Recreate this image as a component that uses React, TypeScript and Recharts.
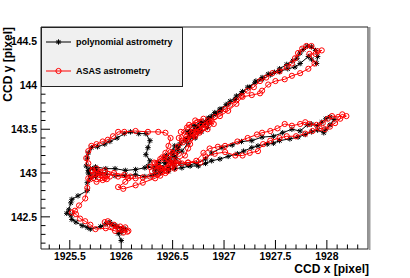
import React from 'react';
import { ScatterChart, Scatter, XAxis, YAxis, ReferenceArea, ReferenceLine, Legend } from 'recharts';

// star trajectory on the CCD, polynomial fit vs ASAS astrometry
const polyX = [
  1926.00, 1925.97, 1926.01, 1925.94, 1925.89, 1925.96, 1926.04, 1926.00, 1925.91, 1925.85,
  1925.80, 1925.70, 1925.67, 1925.62, 1925.56, 1925.52, 1925.51, 1925.47, 1925.49, 1925.51,
  1925.52, 1925.58, 1925.67, 1925.67, 1925.70, 1925.68, 1925.72, 1925.76, 1925.80, 1925.75,
  1925.70, 1925.68, 1925.66, 1925.67, 1925.68, 1925.71, 1925.77, 1925.84, 1925.89, 1925.96,
  1926.03, 1926.09, 1926.17, 1926.24, 1926.28, 1926.26, 1926.24, 1926.28, 1926.26, 1926.33,
  1926.38, 1926.43, 1926.48, 1926.42, 1926.36, 1926.40, 1926.46, 1926.52, 1926.47,
  1926.44, 1926.50, 1926.52, 1926.57, 1926.55, 1926.53, 1926.46,
  1926.38, 1926.30, 1926.23, 1926.14, 1926.04, 1925.94, 1925.85, 1925.76, 1925.70, 1925.75,
  1925.85, 1925.94, 1926.04, 1926.14, 1926.23, 1926.33, 1926.43, 1926.52, 1926.59, 1926.65,
  1926.69, 1926.75, 1926.80, 1926.74, 1926.68, 1926.72, 1926.78, 1926.84, 1926.78, 1926.70, 1926.64,
  1926.85, 1926.86, 1926.92, 1926.96, 1926.91, 1926.85, 1926.79,
  1926.73, 1926.67, 1926.63, 1926.67, 1926.75, 1926.82, 1926.88, 1926.96, 1927.02, 1927.06,
  1927.12, 1927.18, 1927.25, 1927.31, 1927.37, 1927.43, 1927.49, 1927.54, 1927.61, 1927.67,
  1927.71, 1927.74, 1927.77, 1927.81, 1927.85, 1927.89, 1927.91, 1927.90, 1927.85, 1927.82,
  1927.74, 1927.69, 1927.62, 1927.54, 1927.45, 1927.37, 1927.30, 1927.23, 1927.17, 1927.11,
  1927.04, 1926.98, 1926.92, 1926.85, 1926.77, 1926.72, 1926.67, 1926.62, 1926.55, 1926.50,
  1926.46, 1926.50, 1926.57, 1926.65, 1926.73, 1926.82, 1926.88, 1926.98, 1927.08, 1927.17,
  1927.27, 1927.37, 1927.48, 1927.57, 1927.66, 1927.74, 1927.81, 1927.85, 1927.91, 1927.95,
  1927.99, 1928.03, 1928.07, 1928.03, 1927.99, 1927.97, 1927.91, 1927.85, 1927.79, 1927.72,
  1927.64, 1927.54, 1927.48, 1927.42, 1927.33, 1927.27, 1927.19, 1927.13, 1927.04, 1926.96,
  1926.88, 1926.82, 1926.75, 1926.67, 1926.59, 1926.52, 1926.46, 1926.38, 1926.33,
];
const polyY = [
  142.23, 142.31, 142.37, 142.40, 142.44, 142.39, 142.36, 142.32, 142.41, 142.42,
  142.39, 142.36, 142.38, 142.40, 142.44, 142.47, 142.52, 142.54, 142.58, 142.66,
  142.70, 142.74, 142.80, 142.89, 142.98, 143.03, 143.05, 143.00, 142.99, 142.96,
  142.94, 143.00, 143.08, 143.17, 143.23, 143.29, 143.30, 143.33, 143.36, 143.40,
  143.45, 143.47, 143.45, 143.45, 143.37, 143.29, 143.21, 143.14, 143.08, 143.03,
  143.06, 143.11, 143.14, 143.18, 143.12, 143.06, 143.02, 143.08, 143.16,
  143.20, 143.25, 143.31, 143.33, 143.25, 143.16, 143.07,
  143.00, 142.97, 142.96, 142.98, 142.97, 142.97, 142.99, 143.03, 143.05, 143.07,
  143.05, 143.05, 143.03, 143.04, 143.06, 143.07, 143.14, 143.19, 143.25, 143.34,
  143.41, 143.48, 143.55, 143.52, 143.46, 143.40, 143.47, 143.52, 143.58, 143.54, 143.47,
  143.57, 143.62, 143.67, 143.71, 143.69, 143.62, 143.55,
  143.49, 143.46, 143.39, 143.42, 143.51, 143.59, 143.65, 143.73, 143.78, 143.82,
  143.88, 143.93, 143.98, 144.05, 144.09, 144.13, 144.15, 144.19, 144.24, 144.28,
  144.31, 144.37, 144.41, 144.45, 144.44, 144.40, 144.33, 144.25, 144.30, 144.33,
  144.25, 144.21, 144.19, 144.16, 144.12, 144.07, 144.03, 143.98, 143.91, 143.84,
  143.79, 143.73, 143.68, 143.63, 143.57, 143.53, 143.45, 143.37, 143.29, 143.22,
  143.14, 143.11, 143.11, 143.09, 143.11, 143.16, 143.23, 143.29, 143.32, 143.36,
  143.37, 143.41, 143.42, 143.46, 143.50, 143.48, 143.55, 143.56, 143.54, 143.58,
  143.62, 143.64, 143.61, 143.55, 143.50, 143.46, 143.49, 143.47, 143.44, 143.41,
  143.39, 143.37, 143.34, 143.33, 143.31, 143.29, 143.25, 143.22, 143.19, 143.16,
  143.14, 143.11, 143.08, 143.08, 143.06, 143.05, 143.05, 143.03, 142.99,
];

const asasX = [
  1926.06, 1926.01, 1925.97, 1925.91, 1925.84, 1925.87, 1925.93, 1925.99, 1926.04, 1926.07,
  1926.02, 1925.94, 1925.85, 1925.75, 1925.70, 1925.65, 1925.60, 1925.56, 1925.52, 1925.55,
  1925.59, 1925.65, 1925.67, 1925.68, 1925.72, 1925.78, 1925.84, 1925.89,
  1925.82, 1925.76, 1925.70, 1925.74, 1925.81, 1925.86,
  1925.80, 1925.72,
  1925.68, 1925.66, 1925.68, 1925.71, 1925.76, 1925.82, 1925.87, 1925.92, 1925.97, 1926.03,
  1926.14, 1926.26, 1926.36, 1926.43, 1926.48, 1926.46, 1926.43, 1926.38, 1926.33, 1926.28,
  1926.36, 1926.43, 1926.38, 1926.28, 1926.21, 1926.14, 1926.07, 1925.97, 1925.87, 1925.78,
  1925.72, 1925.76, 1925.84, 1925.93, 1926.03, 1926.09, 1926.04, 1925.97, 1926.02, 1926.14,
  1926.21, 1926.33, 1926.43,
  1926.38, 1926.32, 1926.40, 1926.47, 1926.52, 1926.45, 1926.36, 1926.30, 1926.35, 1926.44,
  1926.50, 1926.56, 1926.48, 1926.42,
  1926.50, 1926.55, 1926.62, 1926.65, 1926.67, 1926.72, 1926.77,
  1926.70, 1926.62, 1926.58, 1926.66, 1926.74, 1926.80, 1926.72, 1926.64, 1926.56, 1926.60,
  1926.68, 1926.76, 1926.84, 1926.90, 1926.85, 1926.78, 1926.70, 1926.64, 1926.72, 1926.80,
  1926.82, 1926.86, 1926.91, 1926.96, 1927.01, 1927.06, 1927.12, 1927.17, 1927.23, 1927.29,
  1927.35, 1927.41, 1927.47, 1927.54, 1927.61, 1927.66, 1927.69, 1927.72, 1927.76, 1927.80,
  1927.85, 1927.91, 1927.95, 1927.89, 1927.83, 1927.88, 1927.82, 1927.74, 1927.66, 1927.59,
  1927.50, 1927.43, 1927.37, 1927.35, 1927.27, 1927.18, 1927.12, 1927.04, 1926.96, 1926.88,
  1926.82, 1926.75, 1926.69, 1926.63, 1926.59, 1926.55, 1926.50, 1926.46, 1926.52, 1926.59,
  1926.65, 1926.73, 1926.80, 1926.86, 1926.94, 1927.01, 1927.13, 1927.23, 1927.32, 1927.37,
  1927.45, 1927.52, 1927.59, 1927.66, 1927.74, 1927.79, 1927.83, 1927.90, 1927.96, 1928.01,
  1928.05, 1928.11, 1928.15, 1928.19, 1928.13, 1928.08, 1928.03, 1927.98, 1927.93, 1927.86,
  1927.79, 1927.70, 1927.61, 1927.54, 1927.45, 1927.38, 1927.33, 1927.25, 1927.18, 1927.11,
  1927.01, 1926.91, 1926.82, 1926.77, 1926.65, 1926.54, 1926.46, 1926.38,
];
const asasY = [
  142.33, 142.36, 142.37, 142.39, 142.44, 142.45, 142.41, 142.39, 142.38, 142.34,
  142.32, 142.34, 142.37, 142.36, 142.41, 142.45, 142.48, 142.53, 142.55, 142.57,
  142.63, 142.71, 142.83, 142.94, 142.97, 142.95, 142.94, 142.96,
  142.92, 142.90, 142.93, 142.99, 142.97, 142.93,
  143.00, 143.03,
  143.11, 143.17, 143.25, 143.31, 143.33, 143.36, 143.38, 143.42, 143.47, 143.47,
  143.48, 143.47, 143.47, 143.46, 143.40, 143.31, 143.23, 143.16, 143.11, 143.07,
  143.05, 143.03, 142.97, 142.96, 142.95, 142.94, 142.94, 142.96, 142.99, 143.00,
  143.03, 143.05, 143.03, 143.00, 142.98, 142.96, 142.90, 142.84, 142.82, 142.86,
  142.89, 142.94, 143.00,
  143.05, 143.12, 143.18, 143.12, 143.05, 143.02, 143.08, 143.02, 142.98, 143.06,
  143.15, 143.22, 143.24, 143.16,
  143.08, 143.14, 143.20, 143.28, 143.33, 143.42, 143.48,
  143.50, 143.44, 143.47, 143.55, 143.58, 143.62, 143.60, 143.52, 143.40, 143.35,
  143.40, 143.46, 143.50, 143.56, 143.60, 143.54, 143.45, 143.38, 143.44, 143.52,
  143.54, 143.58, 143.64, 143.69, 143.73, 143.78, 143.83, 143.88, 143.94, 143.98,
  144.05, 144.09, 144.14, 144.16, 144.21, 144.25, 144.31, 144.37, 144.42, 144.45,
  144.45, 144.39, 144.40, 144.36, 144.36, 144.25, 144.19, 144.14, 144.11, 144.07,
  144.05, 144.01, 143.94, 143.91, 143.89, 143.87, 143.79, 143.71, 143.65, 143.59,
  143.55, 143.51, 143.47, 143.41, 143.37, 143.30, 143.23, 143.16, 143.12, 143.11,
  143.12, 143.14, 143.23, 143.28, 143.30, 143.31, 143.36, 143.40, 143.44, 143.46,
  143.48, 143.51, 143.56, 143.54, 143.56, 143.58, 143.56, 143.55, 143.57, 143.62,
  143.65, 143.64, 143.67, 143.65, 143.62, 143.57, 143.53, 143.50, 143.51, 143.48,
  143.45, 143.42, 143.42, 143.40, 143.37, 143.33, 143.25, 143.23, 143.20, 143.20,
  143.24, 143.22, 143.19, 143.12, 143.12, 143.11, 143.08, 143.06,
];

// ticks every 0.1, labelled every 0.5 (ROOT style)
const xTicks = [
  1925.3, 1925.4, 1925.5, 1925.6, 1925.7, 1925.8, 1925.9, 1926.0, 1926.1, 1926.2,
  1926.3, 1926.4, 1926.5, 1926.6, 1926.7, 1926.8, 1926.9, 1927.0, 1927.1, 1927.2,
  1927.3, 1927.4, 1927.5, 1927.6, 1927.7, 1927.8, 1927.9, 1928.0, 1928.1, 1928.2,
  1928.3,
];
const yTicks = [
  142.2, 142.3, 142.4, 142.5, 142.6, 142.7, 142.8, 142.9, 143.0, 143.1, 143.2,
  143.3, 143.4, 143.5, 143.6, 143.7, 143.8, 143.9, 144.0, 144.1, 144.2, 144.3,
  144.4, 144.5, 144.6,
];
const xDomain = [1925.22, 1928.4];
const yDomain = [142.133, 144.667];

const polyData = polyX.map((x, i) => ({ x, y: polyY[i] }));
const asasData = asasX.map((x, i) => ({ x, y: asasY[i] }));

const FONT = '"Liberation Sans", Arial, Helvetica, sans-serif';
const isMajor = (v: number) => Math.abs(v * 2 - Math.round(v * 2)) < 1e-6;
const fmt = (v: number) => String(Math.round(v * 10) / 10);

const Star = ({ cx, cy, s = 2.7 }: { cx: number; cy: number; s?: number }) => (
  <g stroke="#000" strokeWidth={1}>
    <line x1={cx - s} x2={cx + s} y1={cy} y2={cy} />
    <line x1={cx} x2={cx} y1={cy - s} y2={cy + s} />
    <line x1={cx - s * 0.75} x2={cx + s * 0.75} y1={cy - s * 0.75} y2={cy + s * 0.75} />
    <line x1={cx - s * 0.75} x2={cx + s * 0.75} y1={cy + s * 0.75} y2={cy - s * 0.75} />
  </g>
);

const Ring = ({ cx, cy }: { cx: number; cy: number }) => (
  <circle cx={cx} cy={cy} r={2.6} fill="none" stroke="#ff0000" strokeWidth={1} />
);

const XTick = (p: any) => {
  const v = p.payload.value;
  const major = isMajor(v);
  return (
    <g>
      <line x1={p.x} x2={p.x} y1={p.y} y2={p.y - (major ? 9 : 4.5)} stroke="#000" />
      {major && (
        <text x={p.x} y={p.y + 11} textAnchor="middle" fontFamily={FONT} fontWeight="bold" fontSize={10.4} fill="#000">
          {fmt(v)}
        </text>
      )}
    </g>
  );
};

const YTick = (p: any) => {
  const v = p.payload.value;
  const major = isMajor(v);
  return (
    <g>
      <line x1={p.x} x2={p.x + (major ? 9 : 4.5)} y1={p.y} y2={p.y} stroke="#000" />
      {major && (
        <text x={p.x - 4} y={p.y + 3.7} textAnchor="end" fontFamily={FONT} fontWeight="bold" fontSize={10.4} fill="#000">
          {fmt(v)}
        </text>
      )}
    </g>
  );
};

const XTitle = ({ viewBox }: any) => (
  <text x={viewBox.x + viewBox.width + 1} y={viewBox.y + 24} textAnchor="end" fontFamily={FONT} fontWeight="bold" fontSize={12} fill="#000">
    CCD x [pixel]
  </text>
);

const YTitle = ({ viewBox }: any) => {
  const x = viewBox.x + 11.5;
  const y = viewBox.y;
  return (
    <text x={x} y={y} transform={`rotate(-90, ${x}, ${y})`} textAnchor="end" fontFamily={FONT} fontWeight="bold" fontSize={12} fill="#000">
      CCD y [pixel]
    </text>
  );
};

const LegendBox = () => (
  <svg width={142} height={60} style={{ display: 'block' }}>
    <rect x={0.5} y={0.5} width={141} height={59} fill="#f0f0f0" stroke="#222" />
    <line x1={5} x2={30} y1={15} y2={15} stroke="#000" />
    <Star cx={17.5} cy={15} />
    <text x={35} y={18.3} fontFamily={FONT} fontWeight="bold" fontSize={9} fill="#000">polynomial astrometry</text>
    <line x1={5} x2={30} y1={44} y2={44} stroke="#ff0000" />
    <Ring cx={17.5} cy={44} />
    <text x={35} y={47.3} fontFamily={FONT} fontWeight="bold" fontSize={9} fill="#000">ASAS astrometry</text>
  </svg>
);

export default function App() {
  return (
    <div style={{ position: 'absolute', left: 0, top: 0, width: 410, height: 278, background: '#fff' }}>
      <ScatterChart width={410} height={278} margin={{ top: 27, right: 42, bottom: 0, left: 0 }}>
        <XAxis
          type="number"
          dataKey="x"
          domain={xDomain}
          allowDataOverflow
          ticks={xTicks}
          interval={0}
          height={29}
          tickSize={0}
          tickMargin={0}
          axisLine={false}
          tickLine={false}
          tick={XTick}
          label={<XTitle />}
        />
        <YAxis
          type="number"
          dataKey="y"
          domain={yDomain}
          allowDataOverflow
          ticks={yTicks}
          interval={0}
          width={41}
          tickSize={0}
          tickMargin={0}
          axisLine={false}
          tickLine={false}
          tick={YTick}
          label={<YTitle />}
        />
        <ReferenceArea
          x1={xDomain[0]}
          x2={xDomain[1]}
          y1={yDomain[0]}
          y2={yDomain[1]}
          fill="none"
          fillOpacity={0}
          stroke="#222"
          strokeWidth={1}
          ifOverflow="extendDomain"
        />
        {/* grey shadow on the right side of the frame */}
        <ReferenceLine
          x={xDomain[1]}
          shape={(p: any) => (
            <line x1={p.x1 + 1.5} x2={p.x2 + 1.5} y1={p.y1 + 1} y2={p.y2} stroke="#9a9a9a" strokeWidth={2} />
          )}
        />
        <Scatter
          name="polynomial astrometry"
          data={polyData}
          line={{ stroke: '#000', strokeWidth: 1 }}
          lineType="joint"
          shape={(p: any) => <Star cx={p.cx} cy={p.cy} />}
          isAnimationActive={false}
        />
        <Scatter
          name="ASAS astrometry"
          data={asasData}
          line={{ stroke: '#ff0000', strokeWidth: 1 }}
          lineType="joint"
          shape={(p: any) => <Ring cx={p.cx} cy={p.cy} />}
          isAnimationActive={false}
        />
        <Legend
          layout="vertical"
          align="center"
          verticalAlign="middle"
          content={() => <LegendBox />}
          wrapperStyle={{ left: 41, top: 27, width: 142, height: 60 }}
        />
      </ScatterChart>
    </div>
  );
}
